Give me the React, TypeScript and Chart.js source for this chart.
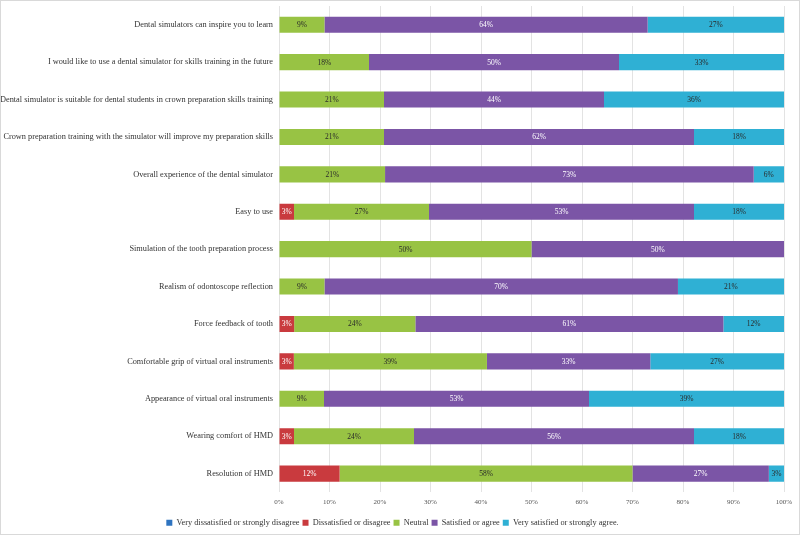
import React, { useEffect, useRef } from "react";
import { Chart, registerables } from "chart.js";

Chart.register(...registerables);

const categories = [
  "Dental simulators can inspire you to learn",
  "I would like to use a dental simulator for skills training in the future",
  "Dental simulator is suitable for dental students in crown preparation skills training",
  "Crown preparation training with the simulator will improve my preparation skills",
  "Overall experience of the dental simulator",
  "Easy to use",
  "Simulation of the tooth preparation process",
  "Realism of odontoscope reflection",
  "Force feedback of tooth",
  "Comfortable grip of virtual oral instruments",
  "Appearance of virtual oral instruments",
  "Wearing comfort of HMD",
  "Resolution of HMD",
];

const seriesNames = [
  "Very dissatisfied or strongly disagree",
  "Dissatisfied or disagree",
  "Neutral",
  "Satisfied or agree",
  "Very satisfied or strongly agree.",
];

const veryDissatisfied = [0, 0, 0, 0, 0, 0, 0, 0, 0, 0, 0, 0, 0];
const dissatisfied = [0, 0, 0, 0, 0, 3, 0, 0, 3, 3, 0, 3, 12];
const neutral = [9, 18, 21, 21, 21, 27, 50, 9, 24, 39, 9, 24, 58];
const satisfied = [64, 50, 44, 62, 73, 53, 50, 70, 61, 33, 53, 56, 27];
const verySatisfied = [27, 33, 36, 18, 6, 18, 0, 21, 12, 27, 39, 18, 3];

const xTicks = [0, 10, 20, 30, 40, 50, 60, 70, 80, 90, 100];

const colors = ["#2f74c0", "#c93a3e", "#98c344", "#7b55a6", "#2fb0d4"];
const labelColors = ["#ffffff", "#ffffff", "#2a2a2a", "#ffffff", "#2a2a2a"];

const rawSeries = [veryDissatisfied, dissatisfied, neutral, satisfied, verySatisfied];

const FONT = "'Liberation Serif', 'Times New Roman', serif";

const segmentLabels = {
  id: "segmentLabels",
  afterDatasetsDraw(chart: any) {
    const ctx = chart.ctx;
    ctx.save();
    ctx.font = `7.5px ${FONT}`;
    ctx.textAlign = "center";
    ctx.textBaseline = "middle";
    chart.data.datasets.forEach((ds: any, di: number) => {
      const meta = chart.getDatasetMeta(di);
      meta.data.forEach((el: any, i: number) => {
        const raw = ds.rawValues[i];
        if (!raw) return;
        const cx = (el.x + el.base) / 2;
        ctx.fillStyle = labelColors[di];
        ctx.fillText(raw + "%", cx, el.y + 0.5);
      });
    });
    ctx.restore();
  },
};

const legendShift = {
  id: "legendShift",
  afterLayout(chart: any) {
    if (chart.legend) {
      chart.legend.top += 3;
      chart.legend.bottom += 3;
    }
  },
};

export default function App() {
  const ref = useRef<HTMLCanvasElement>(null);

  useEffect(() => {
    document.body.style.margin = "0";
    const totals = categories.map((_, i) =>
      rawSeries.reduce((s, arr) => s + arr[i], 0)
    );
    const datasets = rawSeries.map((arr, di) => ({
      label: seriesNames[di],
      data: arr.map((v, i) => (v / totals[i]) * 100),
      rawValues: arr,
      backgroundColor: colors[di],
      borderWidth: 0,
      barPercentage: 0.43,
      categoryPercentage: 1,
    }));
    const chart = new Chart(ref.current!, {
      type: "bar",
      data: { labels: categories, datasets: datasets as any },
      plugins: [segmentLabels, legendShift],
      options: {
        indexAxis: "y",
        animation: false,
        responsive: false,
        layout: { padding: { top: 5, right: 15, bottom: 0, left: 0 } },
        scales: {
          x: {
            stacked: true,
            min: 0,
            max: 100,
            afterBuildTicks: (scale: any) => {
              scale.ticks = xTicks.map((v) => ({ value: v }));
            },
            ticks: {
              callback: (v: any) => v + "%",
              font: { family: FONT, size: 7 },
              color: "#555",
              padding: 6,
            },
            grid: { color: "#e3e3e3", drawTicks: false },
            border: { display: false },
          },
          y: {
            stacked: true,
            afterFit: (scale: any) => {
              scale.width = 278;
              scale.paddingTop = 0;
              scale.paddingBottom = 0;
            },
            ticks: {
              font: { family: FONT, size: 8.3 },
              color: "#333",
              padding: 6,
            },
            grid: { display: false, drawTicks: false },
            border: { display: false },
          },
        },
        plugins: {
          tooltip: { enabled: false },
          legend: {
            position: "bottom",
            labels: {
              boxWidth: 6,
              boxHeight: 6,
              padding: 3,
              font: { family: FONT, size: 8.3 },
              color: "#333",
            },
          },
        },
      } as any,
    });
    return () => chart.destroy();
  }, []);

  return (
    <div
      style={{
        width: 800,
        height: 535,
        boxSizing: "border-box",
        border: "1px solid #d9d9d9",
        background: "#fff",
      }}
    >
      <canvas ref={ref} width={798} height={533} />
    </div>
  );
}
